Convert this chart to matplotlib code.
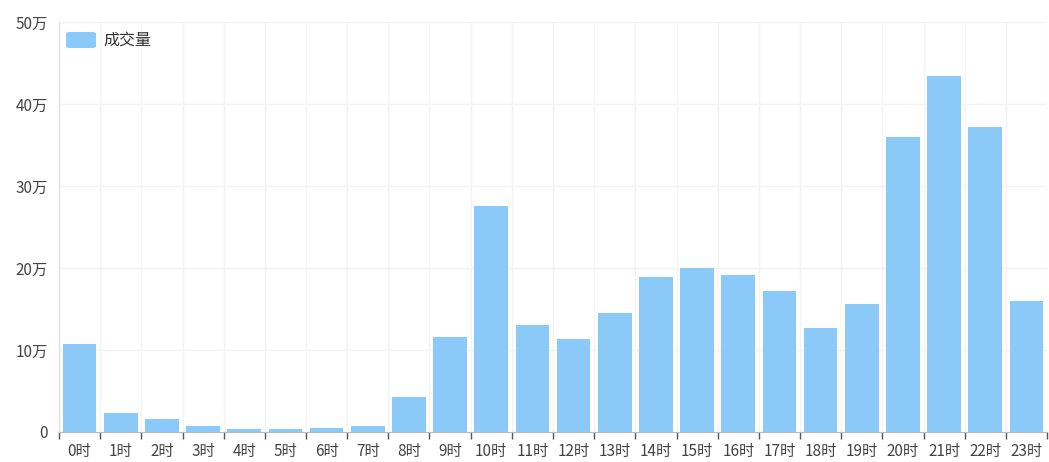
import numpy as np
import matplotlib.pyplot as plt
from matplotlib.patches import FancyBboxPatch

plt.rcParams['font.family'] = ['Noto Sans CJK SC', 'DejaVu Sans']

# 数据
hours = [str(h) + '时' for h in range(24)]
volume = [10.7, 2.3, 1.6, 0.7, 0.4, 0.4, 0.5, 0.7, 4.3, 11.6, 27.6, 13.0,
          11.3, 14.5, 18.9, 20.0, 19.1, 17.2, 12.7, 15.6, 36.0, 43.4, 37.2, 16.0]
y_ticks = [0, 10, 20, 30, 40, 50]
y_labels = ['0', '10万', '20万', '30万', '40万', '50万']

bar_color = '#8ac9f8'

fig = plt.figure(figsize=(10.49, 4.62), dpi=100)
ax = fig.add_axes([59/1049, 30/462, 988/1049, 410/462])

x = np.arange(len(hours))
ax.bar(x, volume, width=0.82, color=bar_color, zorder=3)

ax.set_xlim(-0.5, len(hours) - 0.5)
ax.set_ylim(0, 50)

# 网格
ax.set_yticks(y_ticks)
ax.set_yticklabels(y_labels)
ax.set_xticks(x)
ax.set_xticklabels(hours)
ax.set_xticks(np.arange(-0.5, len(hours)), minor=True)
ax.grid(axis='y', color='#f3f3f3', linewidth=1, zorder=0)
ax.grid(axis='x', which='minor', color='#f3f3f3', linewidth=1, zorder=0)

ax.tick_params(axis='x', which='major', length=0, labelsize=11, colors='#444444', pad=8)
ax.tick_params(axis='x', which='minor', length=5, width=1, color='#555555', direction='out')
ax.tick_params(axis='y', length=0, labelsize=11, colors='#444444', pad=8)

for side in ['top', 'right']:
    ax.spines[side].set_visible(False)
ax.spines['left'].set_color('#dddddd')
ax.spines['bottom'].set_color('#bbbbbb')

# 图例
ax.add_patch(FancyBboxPatch((66/1049, 1 - 48/462), 30/1049, 16/462,
                            boxstyle='round,pad=0,rounding_size=0.004',
                            transform=fig.transFigure, facecolor=bar_color,
                            edgecolor='none', zorder=5))
fig.text(103/1049, 1 - 40/462, '成交量', fontsize=11.5, color='#333333', va='center')

fig.savefig('out.png', dpi=100)
